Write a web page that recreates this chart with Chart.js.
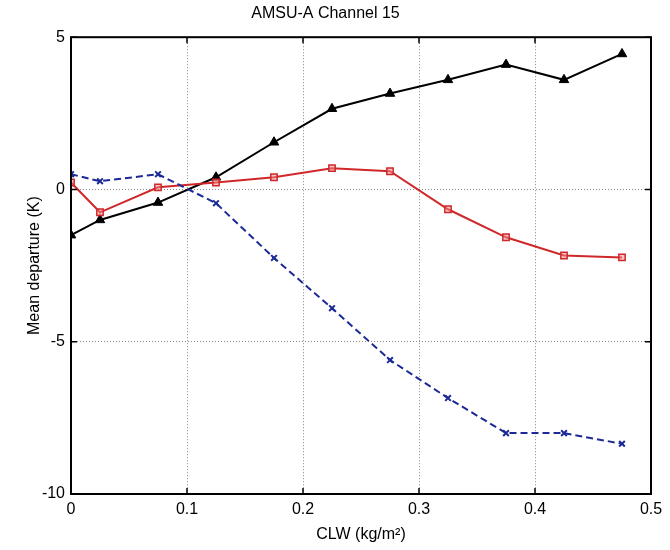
<!DOCTYPE html>
<html>
<head>
<meta charset="utf-8">
<script src="https://cdn.jsdelivr.net/npm/chart.js@4/dist/chart.umd.min.js"></script>
<style>
  html,body{margin:0;padding:0;background:#fff;}
  #wrap{width:670px;height:550px;}
</style>
</head>
<body>
<div id="wrap"><canvas id="c" width="670" height="550"></canvas></div>
<script>
// CLW bin centres (kg/m2)
var clw = [0, 0.025, 0.075, 0.125, 0.175, 0.225, 0.275, 0.325, 0.375, 0.425, 0.475];
// mean departures (K)
var blackTri = [-1.5, -1.0, -0.43, 0.4, 1.55, 2.65, 3.15, 3.6, 4.1, 3.6, 4.45];
var redSq    = [0.23, -0.75, 0.07, 0.23, 0.4, 0.7, 0.6, -0.65, -1.57, -2.17, -2.23];
var blueX    = [0.5, 0.27, 0.5, -0.45, -2.25, -3.9, -5.6, -6.85, -8.0, -8.0, -8.35];
var xTicks = [0, 0.1, 0.2, 0.3, 0.4, 0.5];
var yTicks = [-10, -5, 0, 5];

function pts(ys){ return clw.map(function(x,i){ return {x:x, y:ys[i]}; }); }

// frame + inward tick marks, like the matlab axes box
var boxPlugin = {
  id:'box',
  afterDraw:function(chart){
    var a = chart.chartArea, ctx = chart.ctx, sx = chart.scales.x, sy = chart.scales.y;
    ctx.save();
    ctx.strokeStyle = '#000'; ctx.lineWidth = 1.5;
    xTicks.forEach(function(v){
      var px = sx.getPixelForValue(v);
      ctx.beginPath(); ctx.moveTo(px,a.bottom); ctx.lineTo(px,a.bottom-6);
      ctx.moveTo(px,a.top); ctx.lineTo(px,a.top+6); ctx.stroke();
    });
    yTicks.forEach(function(v){
      var py = sy.getPixelForValue(v);
      ctx.beginPath(); ctx.moveTo(a.left,py); ctx.lineTo(a.left+6,py);
      ctx.moveTo(a.right,py); ctx.lineTo(a.right-6,py); ctx.stroke();
    });
    ctx.lineWidth = 2;
    ctx.strokeRect(a.left, a.top, a.right-a.left, a.bottom-a.top);
    ctx.restore();
  }
};

var font = 'Liberation Sans, Arial, sans-serif';
new Chart(document.getElementById('c'), {
  type:'scatter',
  data:{ datasets:[
    {data:pts(blueX), showLine:true, borderColor:'#1b2a96', backgroundColor:'#1b2a96',
     borderWidth:2, borderDash:[7,4], pointStyle:'crossRot', pointRadius:4, pointBorderWidth:2},
    {data:pts(redSq), showLine:true, borderColor:'#d0282a', backgroundColor:'rgba(240,140,140,0.5)',
     borderWidth:2, pointStyle:'rect', pointRadius:4.5, pointBorderWidth:1.5},
    {data:pts(blackTri), showLine:true, borderColor:'#000', backgroundColor:'#000',
     borderWidth:2, pointStyle:'triangle', pointRadius:5.5, pointBorderWidth:1}
  ]},
  options:{
    responsive:false, animation:false,
    layout:{padding:{left:0, right:19, top:0, bottom:0}},
    plugins:{
      legend:{display:false}, tooltip:{enabled:false},
      title:{display:true, text:'AMSU-A Channel 15', color:'#000',
        font:{family:font, size:16, weight:'normal'}, padding:{top:4, bottom:14}}
    },
    scales:{
      x:{type:'linear', min:0, max:0.5,
        afterBuildTicks:function(s){ s.ticks = xTicks.map(function(v){return {value:v};}); },
        ticks:{color:'#000', font:{family:font, size:16}, padding:6,
          callback:function(v){ return String(v); }},
        grid:{color:'#888', lineWidth:1, tickLength:0, drawTicks:false},
        border:{display:false, dash:[1,2]},
        title:{display:true, text:'CLW (kg/m\u00B2)', color:'#000', font:{family:font, size:16}, padding:{top:4, bottom:6}},
        afterFit:function(s){ s.height = 56; }
      },
      y:{type:'linear', min:-10, max:5,
        afterBuildTicks:function(s){ s.ticks = yTicks.map(function(v){return {value:v};}); },
        ticks:{color:'#000', font:{family:font, size:16}, padding:6},
        grid:{color:'#888', lineWidth:1, drawTicks:false},
        border:{display:false, dash:[1,2]},
        title:{display:true, text:'Mean departure (K)', color:'#000', font:{family:font, size:16}, padding:{top:25, bottom:0}},
        afterFit:function(s){ s.width = 71; }
      }
    }
  },
  plugins:[boxPlugin]
});
</script>
</body>
</html>
